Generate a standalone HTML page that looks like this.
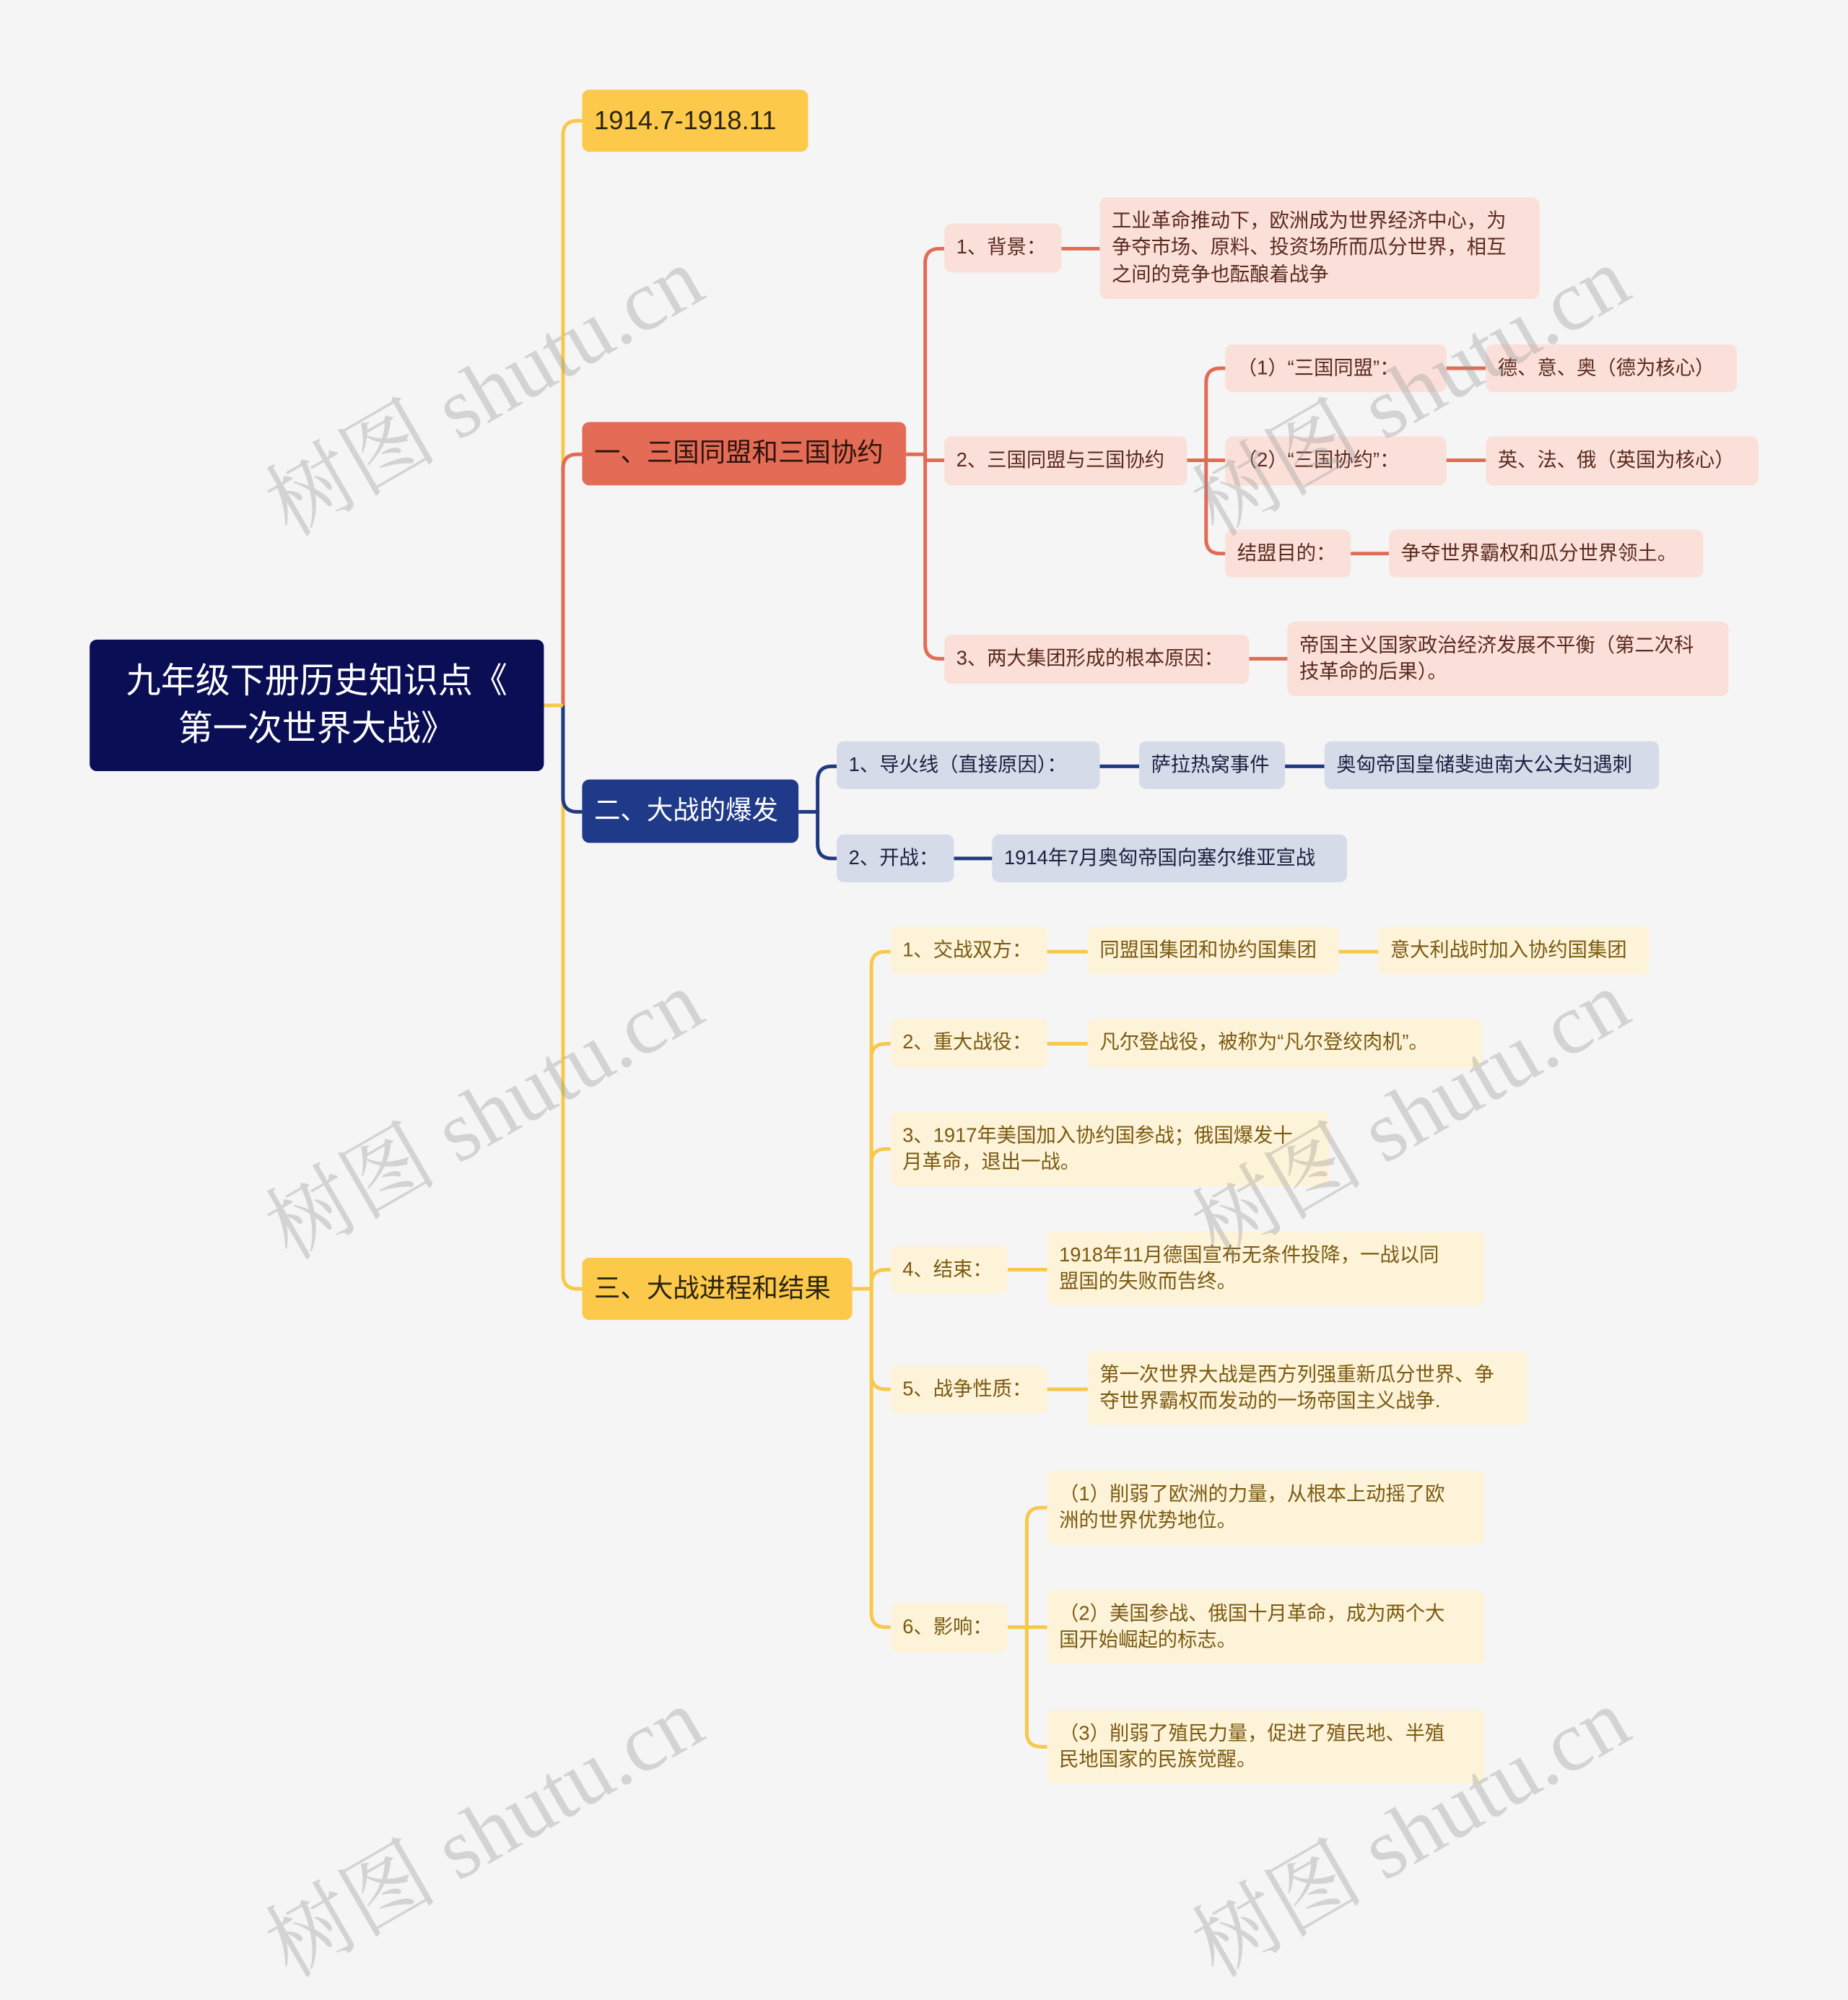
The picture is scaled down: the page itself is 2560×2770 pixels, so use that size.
<!DOCTYPE html>
<html><head><meta charset="utf-8">
<style>
html,body{margin:0;padding:0;background:#f5f5f5;}
body{width:2560px;height:2597px;overflow:hidden;position:relative;}
#c{position:absolute;left:0;top:0;width:1546px;height:1568px;transform:scale(1.65588);transform-origin:0 0;font-family:"Liberation Sans","Noto Sans CJK SC",sans-serif;}
.n{position:absolute;box-sizing:border-box;border-radius:6px;display:flex;align-items:center;padding:0 10px;font-size:16.5px;line-height:22.5px;white-space:nowrap;}
.r{background:#fbe0da;color:#5a2a1e;}
.b{background:#d6dbe9;color:#1b2140;}
.y{background:#fdf3d8;color:#7a5a12;}
.big{font-size:22px;}
.wm{position:absolute;font-family:"Liberation Serif","Noto Serif CJK SC",serif;font-size:72px;color:rgba(150,150,150,0.35);transform:rotate(-30deg);white-space:nowrap;transform-origin:center;}
svg{position:absolute;left:0;top:0;}
</style></head><body><div id="c">
<svg width="1546" height="1568" fill="none" stroke-width="3">
<g stroke="#f8c84a">
<path d="M455 590 H471 V113 Q471 101 483 101 H487"/>
<path d="M471 590 V1066 Q471 1078 483 1078 H487"/>
<path d="M713 1078 H729 V808 Q729 796 741 796 H745"/>
<path d="M729 1078 V885 Q729 873 741 873 H745"/>
<path d="M729 1078 V973 Q729 961 741 961 H745"/>
<path d="M729 1078 V1074 Q729 1062 741 1062 H745"/>
<path d="M729 1078 V1150 Q729 1162 741 1162 H745"/>
<path d="M729 1078 V1349 Q729 1361 741 1361 H745"/>
<path d="M876 796 H910 M1120 796 H1153 M876 873 H910 M843 1062 H876 M876 1162 H910"/>
<path d="M843 1361 H859 V1273 Q859 1261 871 1261 H876"/>
<path d="M859 1361 H876"/>
<path d="M859 1361 V1449 Q859 1461 871 1461 H876"/>
</g>
<g stroke="#e06c55">
<path d="M471 590 V392 Q471 380 483 380 H487"/>
<path d="M758 380 H774 V220 Q774 208 786 208 H790"/>
<path d="M774 380 V385 H790"/>
<path d="M774 380 V539 Q774 551 786 551 H790"/>
<path d="M888 208 H920 M1045 551 H1077"/>
<path d="M993 385 H1009 V320 Q1009 308 1021 308 H1025"/>
<path d="M1009 385 H1025"/>
<path d="M1009 385 V451 Q1009 463 1021 463 H1025"/>
<path d="M1210 308 H1243 M1210 385 H1243 M1130 463 H1162"/>
</g>
<g stroke="#1f3a80">
<path d="M471 590 V667 Q471 679 483 679 H487"/>
<path d="M668 679 H684 V653 Q684 641 696 641 H700"/>
<path d="M684 679 V706 Q684 718 696 718 H700"/>
<path d="M920 641 H953 M1075 641 H1108 M798 718 H830"/>
</g>
<path d="M455 590 H471" stroke="#f8c84a"/>
</svg>

<div class="n" style="left:75px;top:535px;width:380px;height:110px;background:#0a0e55;color:#fff;font-size:29px;line-height:40px;justify-content:center;text-align:center;padding:0 10px;">九年级下册历史知识点《<br>第一次世界大战》</div>

<div class="n big" style="left:487px;top:75px;width:189px;height:52px;background:#fdc94a;color:#2a2410;">1914.7-1918.11</div>
<div class="n big" style="left:487px;top:353px;width:271px;height:53px;background:#e46c56;color:#2e140c;">一、三国同盟和三国协约</div>
<div class="n big" style="left:487px;top:652px;width:181px;height:53px;background:#203a8a;color:#fff;">二、大战的爆发</div>
<div class="n big" style="left:487px;top:1052px;width:226px;height:52px;background:#fdc94a;color:#2a2410;">三、大战进程和结果</div>

<div class="n r" style="left:790px;top:187px;width:98px;height:41px;">1、背景：</div>
<div class="n r" style="left:920px;top:165px;width:368px;height:85px;">工业革命推动下，欧洲成为世界经济中心，为<br>争夺市场、原料、投资场所而瓜分世界，相互<br>之间的竞争也酝酿着战争</div>
<div class="n r" style="left:790px;top:365px;width:203px;height:41px;">2、三国同盟与三国协约</div>
<div class="n r" style="left:1025px;top:288px;width:185px;height:40px;">（1）“三国同盟”：</div>
<div class="n r" style="left:1243px;top:288px;width:210px;height:40px;">德、意、奥（德为核心）</div>
<div class="n r" style="left:1025px;top:365px;width:185px;height:41px;">（2）“三国协约”：</div>
<div class="n r" style="left:1243px;top:365px;width:228px;height:41px;">英、法、俄（英国为核心）</div>
<div class="n r" style="left:1025px;top:443px;width:105px;height:40px;">结盟目的：</div>
<div class="n r" style="left:1162px;top:443px;width:263px;height:40px;">争夺世界霸权和瓜分世界领土。</div>
<div class="n r" style="left:790px;top:531px;width:255px;height:41px;">3、两大集团形成的根本原因：</div>
<div class="n r" style="left:1077px;top:520px;width:369px;height:62px;">帝国主义国家政治经济发展不平衡（第二次科<br>技革命的后果）。</div>

<div class="n b" style="left:700px;top:620px;width:220px;height:40px;">1、导火线（直接原因）：</div>
<div class="n b" style="left:953px;top:620px;width:122px;height:40px;">萨拉热窝事件</div>
<div class="n b" style="left:1108px;top:620px;width:280px;height:40px;">奥匈帝国皇储斐迪南大公夫妇遇刺</div>
<div class="n b" style="left:700px;top:698px;width:98px;height:40px;">2、开战：</div>
<div class="n b" style="left:830px;top:698px;width:297px;height:40px;">1914年7月奥匈帝国向塞尔维亚宣战</div>

<div class="n y" style="left:745px;top:775px;width:131px;height:40px;">1、交战双方：</div>
<div class="n y" style="left:910px;top:775px;width:210px;height:40px;">同盟国集团和协约国集团</div>
<div class="n y" style="left:1153px;top:775px;width:227px;height:40px;">意大利战时加入协约国集团</div>
<div class="n y" style="left:745px;top:852px;width:131px;height:41px;">2、重大战役：</div>
<div class="n y" style="left:910px;top:852px;width:330px;height:41px;">凡尔登战役，被称为“凡尔登绞肉机”。</div>
<div class="n y" style="left:745px;top:930px;width:367px;height:62px;">3、1917年美国加入协约国参战；俄国爆发十<br>月革命，退出一战。</div>
<div class="n y" style="left:745px;top:1042px;width:98px;height:40px;">4、结束：</div>
<div class="n y" style="left:876px;top:1030px;width:366px;height:62px;">1918年11月德国宣布无条件投降，一战以同<br>盟国的失败而告终。</div>
<div class="n y" style="left:745px;top:1142px;width:131px;height:40px;">5、战争性质：</div>
<div class="n y" style="left:910px;top:1130px;width:368px;height:62px;">第一次世界大战是西方列强重新瓜分世界、争<br>夺世界霸权而发动的一场帝国主义战争.</div>
<div class="n y" style="left:745px;top:1341px;width:98px;height:41px;">6、影响：</div>
<div class="n y" style="left:876px;top:1230px;width:366px;height:62px;">（1）削弱了欧洲的力量，从根本上动摇了欧<br>洲的世界优势地位。</div>
<div class="n y" style="left:876px;top:1330px;width:366px;height:62px;">（2）美国参战、俄国十月革命，成为两个大<br>国开始崛起的标志。</div>
<div class="n y" style="left:876px;top:1430px;width:366px;height:62px;">（3）削弱了殖民力量，促进了殖民地、半殖<br>民地国家的民族觉醒。</div>

<div class="wm" style="left:200px;top:270px;">树图 shutu.cn</div>
<div class="wm" style="left:975px;top:270px;">树图 shutu.cn</div>
<div class="wm" style="left:200px;top:875px;">树图 shutu.cn</div>
<div class="wm" style="left:975px;top:875px;">树图 shutu.cn</div>
<div class="wm" style="left:200px;top:1475px;">树图 shutu.cn</div>
<div class="wm" style="left:975px;top:1475px;">树图 shutu.cn</div>
</div></body></html>
